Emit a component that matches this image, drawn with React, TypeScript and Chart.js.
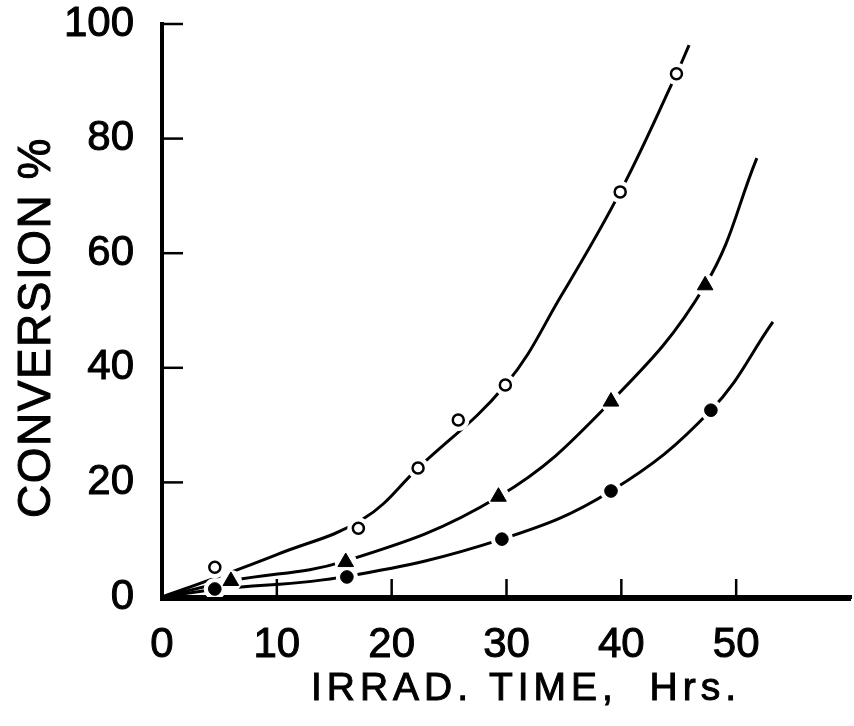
import React, { useEffect, useRef } from "react";
import { Chart, registerables } from "chart.js";

Chart.register(...registerables);

// Measured points (irradiation time in hours, conversion in %)
const openHours = [4.6, 17.1, 22.3, 25.8, 29.9, 39.9, 44.8];
const openConv = [5.2, 12.0, 22.5, 30.9, 37.0, 70.7, 91.3];
const triHours = [6.0, 16.0, 29.3, 39.1, 47.3];
const triConv = [2.8, 6.1, 17.5, 34.1, 54.4];
const dotHours = [4.6, 16.1, 29.6, 39.1, 47.8];
const dotConv = [1.4, 3.5, 10.1, 18.5, 32.6];

// Hand-drawn curves
const openCurveHours = [0, 5, 10, 17.5, 22.3, 29.9, 34.8, 39.9, 44.8, 45.9];
const openCurveConv = [0, 3.6, 7.4, 13.6, 22.5, 37.0, 52.7, 70.7, 91.3, 96.3];
const triCurveHours = [0, 6.0, 16.0, 29.3, 39.1, 47.3, 51.8];
const triCurveConv = [0, 2.8, 6.3, 17.5, 34.1, 54.4, 76.6];
const dotCurveHours = [0, 4.6, 16.1, 29.6, 39.1, 47.8, 53.2];
const dotCurveConv = [0, 1.3, 3.6, 10.1, 18.5, 32.6, 48.0];

const xTickValues = [0, 10, 20, 30, 40, 50, 60];
const xTickLabels = ["0", "10", "20", "30", "40", "50", ""];
const yTickValues = [0, 20, 40, 60, 80, 100];
const yTickLabels = ["0", "20", "40", "60", "80", "100"];
const xTitle = "IRRAD. TIME,  Hrs.";
const yTitle = "CONVERSION %";

const FONT = '"Liberation Sans", Arial, sans-serif';

const pts = (xs: number[], ys: number[]) => xs.map((x, i) => ({ x, y: ys[i] }));

export default function App() {
  const ref = useRef<HTMLCanvasElement>(null);

  useEffect(() => {
    document.body.style.margin = "0";
    if (!ref.current) return;

    const lineDs = (xs: number[], ys: number[]) => ({
      type: "line" as const,
      data: pts(xs, ys),
      borderColor: "#000",
      borderWidth: 3,
      pointRadius: 0,
      fill: false,
      showLine: true,
      tension: 0.4,
      order: 3,
    });
    const haloDs = (xs: number[], ys: number[], r: number) => ({
      type: "scatter" as const,
      data: pts(xs, ys),
      pointRadius: r,
      pointBackgroundColor: "#fff",
      pointBorderColor: "#fff",
      pointBorderWidth: 0,
      showLine: false,
      order: 2,
    });

    const axisPlugin = {
      id: "axisTicksTitles",
      afterLayout(chart: any) {
        // stretch the horizontal axis so that its right end sits 3px from the canvas edge
        const xs = chart.scales.x;
        const target = chart.width - 3;
        if (xs && Math.abs(xs.right - target) > 0.5) {
          xs.right = target;
          xs.width = target - xs.left;
          chart.chartArea.right = target;
          chart.chartArea.width = target - chart.chartArea.left;
          xs.configure();
        }
      },
      afterDatasetsDraw(chart: any) {
        const { ctx, scales } = chart;
        const xs = scales.x;
        const ys = scales.y;
        const x0 = xs.getPixelForValue(0);
        const y0 = ys.getPixelForValue(0);
        ctx.save();
        ctx.strokeStyle = "#000";
        ctx.lineCap = "butt";
        ctx.lineWidth = 4;
        ctx.beginPath();
        ctx.moveTo(x0, ys.getPixelForValue(100) - 2);
        ctx.lineTo(x0, y0 + 2);
        ctx.lineTo(xs.getPixelForValue(60), y0 + 2);
        ctx.stroke();
        ctx.lineWidth = 2.5;
        yTickValues.forEach((v) => {
          if (v === 0) return;
          const py = ys.getPixelForValue(v);
          ctx.beginPath();
          ctx.moveTo(x0, py);
          ctx.lineTo(x0 + 21, py);
          ctx.stroke();
        });
        xTickValues.forEach((v) => {
          if (v === 0 || v === 60) return;
          const px = xs.getPixelForValue(v);
          ctx.beginPath();
          ctx.moveTo(px, y0);
          ctx.lineTo(px, y0 - 18);
          ctx.stroke();
        });
        ctx.restore();
      },
      afterDraw(chart: any) {
        const { ctx, chartArea } = chart;
        ctx.save();
        ctx.fillStyle = "#000";
        ctx.strokeStyle = "#000";
        ctx.lineWidth = 1;
        ctx.textAlign = "center";
        ctx.textBaseline = "alphabetic";
        // x title
        ctx.font = `39px ${FONT}`;
        (ctx as any).letterSpacing = "5px";
        const xtx = chartArea.left + 364;
        const xty = chartArea.bottom + 103;
        ctx.fillText(xTitle, xtx, xty);
        ctx.strokeText(xTitle, xtx, xty);
        // y title
        ctx.font = `46px ${FONT}`;
        (ctx as any).letterSpacing = "1.5px";
        ctx.translate(chartArea.left - 112, (chartArea.top + chartArea.bottom) / 2 + 17);
        ctx.rotate(-Math.PI / 2);
        ctx.fillText(yTitle, 0, 0);
        ctx.strokeText(yTitle, 0, 0);
        ctx.restore();
      },
    };

    const chart = new Chart(ref.current, {
      type: "scatter",
      data: {
        datasets: [
          lineDs(openCurveHours, openCurveConv),
          lineDs(triCurveHours, triCurveConv),
          lineDs(dotCurveHours, dotCurveConv),
          haloDs(openHours, openConv, 11),
          haloDs(triHours, triConv, 11),
          haloDs(dotHours, dotConv, 11),
          {
            type: "scatter",
            data: pts(openHours, openConv),
            pointRadius: 5.5,
            pointStyle: "circle",
            pointBackgroundColor: "#fff",
            pointBorderColor: "#000",
            pointBorderWidth: 2.5,
            order: 1,
          },
          {
            type: "scatter",
            data: pts(triHours, triConv),
            pointRadius: 9,
            pointStyle: "triangle",
            pointBackgroundColor: "#000",
            pointBorderColor: "#000",
            pointBorderWidth: 1,
            order: 1,
          },
          {
            type: "scatter",
            data: pts(dotHours, dotConv),
            pointRadius: 6.3,
            pointStyle: "circle",
            pointBackgroundColor: "#000",
            pointBorderColor: "#000",
            pointBorderWidth: 1,
            order: 1,
          },
        ] as any,
      },
      options: {
        responsive: false,
        animation: false,
        layout: { padding: { left: 0, right: 3, top: 24, bottom: 0 } },
        plugins: { legend: { display: false }, tooltip: { enabled: false } },
        scales: {
          x: {
            type: "linear",
            min: 0,
            max: 60,
            afterBuildTicks: (s: any) => {
              s.ticks = xTickValues.map((v) => ({ value: v }));
            },
            ticks: {
              callback: (v: any) => xTickLabels[xTickValues.indexOf(Number(v))] ?? "",
              font: { family: FONT, size: 42 },
              color: "#000",
              textStrokeColor: "#000",
              textStrokeWidth: 1,
              padding: 15,
              maxRotation: 0,
              autoSkip: false,
            },
            grid: { display: false },
            border: { display: true, color: "#000", width: 4 },
            afterFit: (s: any) => {
              s.height = 129;
              s.paddingLeft = 0;
              s.paddingRight = 0;
            },
          },
          y: {
            type: "linear",
            min: 0,
            max: 100,
            afterBuildTicks: (s: any) => {
              s.ticks = yTickValues.map((v) => ({ value: v }));
            },
            ticks: {
              callback: (v: any) => yTickLabels[yTickValues.indexOf(Number(v))] ?? "",
              font: { family: FONT, size: 42 },
              color: "#000",
              textStrokeColor: "#000",
              textStrokeWidth: 1,
              padding: 20,
              autoSkip: false,
            },
            grid: { display: false },
            border: { display: true, color: "#000", width: 4 },
            afterFit: (s: any) => {
              s.width = 162;
              s.paddingTop = 0;
              s.paddingBottom = 0;
            },
          },
        },
      } as any,
      plugins: [axisPlugin],
    });

    return () => chart.destroy();
  }, []);

  return <canvas ref={ref} width={854} height={726} style={{ display: "block" }} />;
}
